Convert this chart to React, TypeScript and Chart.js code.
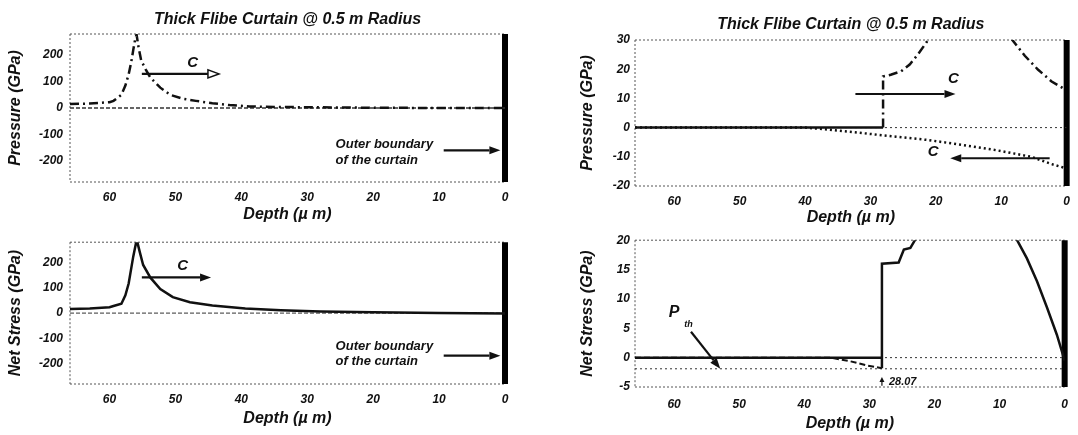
import React, { useEffect, useRef } from "react";
import { Chart, registerables } from "chart.js";

Chart.register(...registerables);

const FAMILY = "'Liberation Sans', Arial, 'DejaVu Sans', sans-serif";

// ---------- shared axis data ----------
const depthTicks = [60, 50, 40, 30, 20, 10, 0];
const depthMax = 66;
const mainTitle = "Thick Flibe Curtain @ 0.5 m Radius";
const depthTitle = "Depth (\u00b5 m)";

// ---------- top-left: pressure, full range ----------
const tlYTicks = [200, 100, 0, -100, -200];
const tlYRange = [-280, 280];
const tlDepth = [66, 63, 60, 59.4, 58.2, 57.6, 57.1, 56.7, 56.4, 56.1, 55.9, 55.6, 55.2, 54.5, 53.8, 52.3, 50.8, 48.9, 46.9, 44.4, 41.8, 38.8, 35, 30, 25, 20, 10, 0];
const tlPressure = [15, 17, 22, 27, 50, 85, 127, 175, 220, 262, 278, 230, 180, 145, 115, 77, 50, 35, 27, 18, 11, 6, 4, 3, 2, 1, 0, 0];
const tlRefLines = [0];

// ---------- bottom-left: net stress, full range ----------
const blYTicks = [200, 100, 0, -100, -200];
const blYRange = [-280, 280];
const blDepth = [66, 63, 60, 59.4, 58.2, 57.6, 57.1, 56.4, 56.0, 55.8, 55.4, 54.9, 53.8, 52.3, 50.4, 47.8, 44.4, 39.4, 34, 28, 20, 10, 0];
const blStress = [16, 18, 23, 28, 37, 70, 117, 224, 275, 282, 240, 190, 140, 95, 63, 43, 30, 18, 11, 6, 3, 0, -2];
const blRefLines = [0];

// ---------- top-right: pressure, zoomed ----------
const trYTicks = [30, 20, 10, 0, -10, -20];
const trYRange = [-20, 30];
const trDepth = [66, 28.07, 28.07, 26.9, 25.3, 24.0, 22.7, 21.4, 20.5, 15, 10, 8.3, 6.4, 4.4, 2.3, 0.5];
const trPressure = [0, 0, 17.5, 18.1, 19.3, 21.6, 25.2, 29.3, 33, 60, 36, 30, 24.6, 19.9, 15.8, 13.4];
const trTensionDepth = [66, 40, 36.3, 31.2, 26.1, 21, 15.8, 10.6, 5.4, 2.3, 0];
const trTension = [0, 0, -0.7, -1.9, -3.1, -4.3, -6, -7.8, -10, -12.5, -14];
const trRefLines = [0];

// ---------- bottom-right: net stress, zoomed ----------
const brYTicks = [20, 15, 10, 5, 0, -5];
const brYRange = [-5, 20];
const brDepth = [66, 28.07, 28.07, 28.07, 25.5, 24.7, 23.7, 23.0, 21, 15, 9, 7.3, 5.8, 4.25, 2.7, 1.2, 0];
const brStress = [0, 0, -1.8, 16, 16.2, 18.4, 18.7, 20, 24, 40, 26, 20, 16.9, 13, 8.5, 3.9, -0.5];
const brTensionDepth = [66, 36, 33, 30.5, 28.07];
const brTension = [0, 0, -0.6, -1.3, -1.8];
const brThreshold = -1.9;
const brRefLines = [0, brThreshold];
const jumpDepthLabel = "28.07";

// ---------- annotations (data coordinates) ----------
type Arrow = { x1: number; y1: number; x2: number; y2: number; head: "filled" | "open" | "small" };
type Label = { x: number; y: number; text: string; size: number; align: CanvasTextAlign };

const tlArrows: Arrow[] = [
  { x1: 55.1, y1: 129, x2: 43.4, y2: 129, head: "open" },
  { x1: 9.3, y1: -160, x2: 0.7, y2: -160, head: "filled" },
];
const tlLabels: Label[] = [
  { x: 47.4, y: 169, text: "C", size: 15, align: "center" },
  { x: 25.7, y: -138, text: "Outer boundary", size: 13, align: "left" },
  { x: 25.7, y: -200, text: "of the curtain", size: 13, align: "left" },
];
const blArrows: Arrow[] = [
  { x1: 55.1, y1: 141, x2: 44.6, y2: 141, head: "filled" },
  { x1: 9.3, y1: -168, x2: 0.7, y2: -168, head: "filled" },
];
const blLabels: Label[] = [
  { x: 48.9, y: 187, text: "C", size: 15, align: "center" },
  { x: 25.7, y: -132, text: "Outer boundary", size: 13, align: "left" },
  { x: 25.7, y: -190, text: "of the curtain", size: 13, align: "left" },
];
const trArrows: Arrow[] = [
  { x1: 32.3, y1: 11.5, x2: 17.0, y2: 11.5, head: "filled" },
  { x1: 2.6, y1: -10.5, x2: 17.8, y2: -10.5, head: "filled" },
];
const trLabels: Label[] = [
  { x: 17.3, y: 16.6, text: "C", size: 15, align: "center" },
  { x: 20.4, y: -8.4, text: "C", size: 15, align: "center" },
];
const brArrows: Arrow[] = [
  { x1: 57.4, y1: 4.4, x2: 52.9, y2: -1.9, head: "filled" },
  { x1: 28.07, y1: -4.8, x2: 28.07, y2: -3.3, head: "small" },
];
const brLabels: Label[] = [
  { x: 60, y: 7.6, text: "P", size: 16, align: "center" },
  { x: 57.8, y: 5.6, text: "th", size: 9, align: "center" },
  { x: 27.0, y: -4.1, text: jumpDepthLabel, size: 11, align: "left" },
];

// ---------- panel specs ----------
type SeriesKind = "dashdot" | "solid" | "dotted" | "dashed" | "dashdotZeroSolid";
type Series = { xs: number[]; ys: number[]; kind: SeriesKind; width: number };
type Layout = { left: number; top: number; w: number; h: number; aL: number; aR: number; aT: number; aB: number; tickPad: number; xTitleBottom: number; yTitlePad: number; yTickPad: number; titleY: number };
type Spec = {
  title?: string; yTitle: string; yRange: number[]; yTicks: number[];
  series: Series[]; refLines: number[]; refDash: number[]; refWidth: number;
  arrows: Arrow[]; labels: Label[]; lay: Layout;
};

const panels: Spec[] = [
  {
    title: mainTitle, yTitle: "Pressure (GPa)", yRange: tlYRange, yTicks: tlYTicks,
    series: [{ xs: tlDepth, ys: tlPressure, kind: "dashdot", width: 2.5 }],
    refLines: tlRefLines, refDash: [4, 2], refWidth: 1.5, arrows: tlArrows, labels: tlLabels,
    lay: { left: 0, top: 0, w: 539, h: 228, aL: 70, aR: 505, aT: 34, aB: 182, tickPad: 8, xTitleBottom: 4, yTitlePad: 6, yTickPad: 7, titleY: 20 },
  },
  {
    title: mainTitle, yTitle: "Pressure (GPa)", yRange: trYRange, yTicks: trYTicks,
    series: [
      { xs: trDepth, ys: trPressure, kind: "dashdotZeroSolid", width: 2.5 },
      { xs: trTensionDepth, ys: trTension, kind: "dotted", width: 2.5 },
    ],
    refLines: trRefLines, refDash: [2, 3], refWidth: 1, arrows: trArrows, labels: trLabels,
    lay: { left: 539, top: 0, w: 539, h: 228, aL: 96, aR: 529, aT: 40, aB: 186, tickPad: 8, xTitleBottom: 1, yTitlePad: 39, yTickPad: 5, titleY: 25 },
  },
  {
    yTitle: "Net Stress (GPa)", yRange: blYRange, yTicks: blYTicks,
    series: [{ xs: blDepth, ys: blStress, kind: "solid", width: 2.5 }],
    refLines: blRefLines, refDash: [4, 2], refWidth: 1, arrows: blArrows, labels: blLabels,
    lay: { left: 0, top: 228, w: 539, h: 207, aL: 70, aR: 505, aT: 7, aB: 156, tickPad: 8, xTitleBottom: 7, yTitlePad: 6, yTickPad: 7, titleY: 0 },
  },
  {
    yTitle: "Net Stress (GPa)", yRange: brYRange, yTicks: brYTicks,
    series: [
      { xs: brDepth, ys: brStress, kind: "solid", width: 2.5 },
      { xs: brTensionDepth, ys: brTension, kind: "dashed", width: 2 },
    ],
    refLines: brRefLines, refDash: [2, 3], refWidth: 1, arrows: brArrows, labels: brLabels,
    lay: { left: 539, top: 228, w: 539, h: 207, aL: 96, aR: 529, aT: 12, aB: 159, tickPad: 10, xTitleBottom: 2, yTitlePad: 39, yTickPad: 5, titleY: 0 },
  },
];

const INK = "#111";
const DASHDOT = [9, 4, 2, 4];

function dashFor(kind: SeriesKind): number[] {
  if (kind === "dashdot" || kind === "dashdotZeroSolid") return DASHDOT;
  if (kind === "dotted") return [2, 3];
  if (kind === "dashed") return [6, 3];
  return [];
}

function drawArrow(ctx: CanvasRenderingContext2D, x1: number, y1: number, x2: number, y2: number, head: string) {
  const ang = Math.atan2(y2 - y1, x2 - x1);
  const len = head === "small" ? 5 : 11;
  const hw = head === "small" ? 2.5 : 4;
  const bx = x2 - Math.cos(ang) * len;
  const by = y2 - Math.sin(ang) * len;
  ctx.save();
  ctx.strokeStyle = INK;
  ctx.fillStyle = INK;
  ctx.lineWidth = head === "small" ? 1.2 : 2.2;
  ctx.setLineDash([]);
  ctx.beginPath();
  ctx.moveTo(x1, y1);
  ctx.lineTo(bx, by);
  ctx.stroke();
  ctx.beginPath();
  ctx.moveTo(x2, y2);
  ctx.lineTo(bx + Math.sin(ang) * hw, by - Math.cos(ang) * hw);
  ctx.lineTo(bx - Math.sin(ang) * hw, by + Math.cos(ang) * hw);
  ctx.closePath();
  if (head === "open") {
    ctx.fillStyle = "#fff";
    ctx.fill();
    ctx.lineWidth = 1.5;
    ctx.stroke();
  } else {
    ctx.fill();
  }
  ctx.restore();
}

function PanelChart({ spec }: { spec: Spec }) {
  const ref = useRef<HTMLCanvasElement | null>(null);
  useEffect(() => {
    const canvas = ref.current;
    if (!canvas) return;
    const lay = spec.lay;
    const [yMin, yMax] = spec.yRange;
    const datasets: any[] = [];
    spec.series.forEach((s) => {
      const ds: any = {
        data: s.xs.map((x, i) => ({ x, y: s.ys[i] })),
        showLine: true, pointRadius: 0, borderColor: INK, borderWidth: s.width,
        borderDash: dashFor(s.kind), tension: 0, borderCapStyle: "butt",
      };
      if (s.kind === "dashdotZeroSolid") {
        ds.segment = {
          borderDash: (c: any) => (c.p0.parsed.y === 0 && c.p1.parsed.y === 0 ? [] : DASHDOT),
        };
      }
      datasets.push(ds);
    });
    spec.refLines.forEach((v) => {
      datasets.push({
        data: [{ x: depthMax, y: v }, { x: 0, y: v }],
        showLine: true, pointRadius: 0, borderColor: "#333", borderWidth: spec.refWidth, borderDash: spec.refDash,
      });
    });
    datasets.push({
      data: [{ x: 0, y: yMin }, { x: 0, y: yMax }],
      showLine: true, pointRadius: 0, borderColor: "#000", borderWidth: 6, clip: false,
    });

    const tickFont = { family: FAMILY, size: 12, style: "italic" as const, weight: "bold" as const };
    const titleFont = { family: FAMILY, size: 16, style: "italic" as const, weight: "bold" as const, lineHeight: 1.2 };

    const overlay = {
      id: "overlay",
      beforeDatasetsDraw(chart: any) {
        const { ctx, chartArea: a } = chart;
        ctx.save();
        ctx.strokeStyle = "#555";
        ctx.lineWidth = 1;
        ctx.setLineDash([2, 2]);
        ctx.beginPath();
        ctx.moveTo(a.left, a.top); ctx.lineTo(a.right, a.top);
        ctx.moveTo(a.left, a.bottom); ctx.lineTo(a.right, a.bottom);
        ctx.moveTo(a.left, a.top); ctx.lineTo(a.left, a.bottom);
        ctx.stroke();
        ctx.restore();
      },
      afterDatasetsDraw(chart: any) {
        const { ctx } = chart;
        const xs = chart.scales.x;
        const ys = chart.scales.y;
        spec.arrows.forEach((ar) => {
          drawArrow(ctx, xs.getPixelForValue(ar.x1), ys.getPixelForValue(ar.y1), xs.getPixelForValue(ar.x2), ys.getPixelForValue(ar.y2), ar.head);
        });
        ctx.save();
        ctx.fillStyle = INK;
        ctx.textBaseline = "middle";
        spec.labels.forEach((lb) => {
          ctx.font = `italic bold ${lb.size}px ${FAMILY}`;
          ctx.textAlign = lb.align;
          ctx.fillText(lb.text, xs.getPixelForValue(lb.x), ys.getPixelForValue(lb.y));
        });
        if (spec.title) {
          const a = chart.chartArea;
          ctx.font = `italic bold 16px ${FAMILY}`;
          ctx.textAlign = "center";
          ctx.fillText(spec.title, (a.left + a.right) / 2, lay.titleY);
        }
        ctx.restore();
      },
    };

    const chart = new Chart(canvas, {
      type: "scatter",
      data: { datasets },
      options: {
        animation: false,
        responsive: false,
        maintainAspectRatio: false,
        layout: { padding: { left: 0, right: lay.w - lay.aR, top: lay.aT, bottom: 0 } },
        plugins: { legend: { display: false }, tooltip: { enabled: false }, title: { display: false } },
        scales: {
          x: {
            type: "linear", reverse: true, min: 0, max: depthMax,
            afterBuildTicks: (s: any) => { s.ticks = depthTicks.map((v) => ({ value: v })); },
            afterFit: (s: any) => { s.height = lay.h - lay.aB; },
            grid: { display: false, drawTicks: false }, border: { display: false },
            ticks: { font: tickFont, color: INK, padding: lay.tickPad, maxRotation: 0, autoSkip: false },
            title: { display: true, text: depthTitle, font: titleFont, color: INK, padding: { top: 0, bottom: lay.xTitleBottom } },
          },
          y: {
            type: "linear", min: yMin, max: yMax,
            afterBuildTicks: (s: any) => { s.ticks = spec.yTicks.map((v) => ({ value: v })); },
            afterFit: (s: any) => { s.width = lay.aL; },
            grid: { display: false, drawTicks: false }, border: { display: false },
            ticks: { font: tickFont, color: INK, padding: lay.yTickPad, autoSkip: false },
            title: { display: true, text: spec.yTitle, font: titleFont, color: INK, padding: { top: lay.yTitlePad, bottom: 0 } },
          },
        },
      } as any,
      plugins: [overlay],
    });
    return () => chart.destroy();
  }, [spec]);
  const lay = spec.lay;
  return (
    <canvas
      ref={ref}
      width={lay.w}
      height={lay.h}
      style={{ position: "absolute", left: lay.left, top: lay.top, width: lay.w, height: lay.h }}
    />
  );
}

export default function App() {
  return (
    <div style={{ position: "absolute", left: 0, top: 0, width: 1078, height: 435, background: "#fff", overflow: "hidden" }}>
      {panels.map((p, i) => (
        <PanelChart key={i} spec={p} />
      ))}
    </div>
  );
}
